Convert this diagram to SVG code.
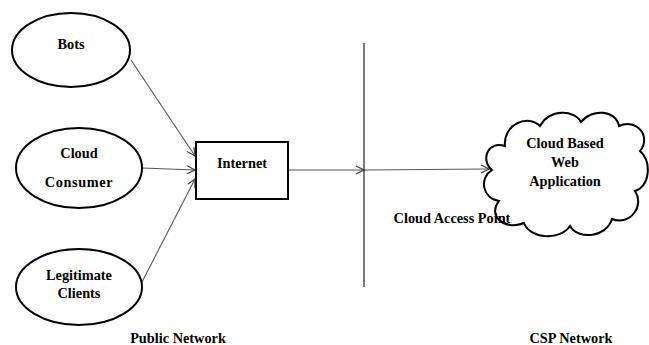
<svg xmlns="http://www.w3.org/2000/svg" width="649" height="345" viewBox="0 0 649 345">
  <style>
    .node { fill: #fff; stroke: #000; stroke-width: 2; }
    .lbl { font-family: "Liberation Serif", "Times New Roman", serif; font-weight: bold; font-size: 14.3px; fill: #000; text-anchor: middle; }
    .conn { stroke: #555; stroke-width: 1.1; fill: none; }
    .divider { stroke: #222; stroke-width: 1.2; }
  </style>
  <defs>
    <marker id="open-arrow" viewBox="0 0 10 10" refX="9" refY="5" markerWidth="10" markerHeight="10" markerUnits="userSpaceOnUse" orient="auto">
      <path d="M1,1 L9,5 L1,9" fill="none" stroke="#444" stroke-width="1.2"/>
    </marker>
  </defs>
  <rect width="649" height="345" fill="#fff"/>

  <!-- connectors -->
  <g id="connectors">
    <line class="conn" x1="131" y1="60" x2="195" y2="156" marker-end="url(#open-arrow)"/>
    <line class="conn" x1="142" y1="168" x2="195" y2="170" marker-end="url(#open-arrow)"/>
    <line class="conn" x1="142" y1="282" x2="195" y2="179" marker-end="url(#open-arrow)"/>
    <line class="conn" x1="288" y1="170" x2="364" y2="170" marker-end="url(#open-arrow)"/>
    <line class="conn" x1="364" y1="170" x2="489" y2="169" marker-end="url(#open-arrow)"/>
    <line class="divider" x1="364" y1="43" x2="364" y2="287"/>
  </g>

  <g id="bots">
    <ellipse class="node" cx="71" cy="50" rx="59" ry="37"/>
    <text class="lbl" x="71" y="49">Bots</text>
  </g>

  <g id="cloud-consumer">
    <ellipse class="node" cx="79" cy="168" rx="63" ry="40"/>
    <text class="lbl" x="79" y="158">Cloud</text>
    <text class="lbl" x="79" y="187" letter-spacing="0.6">Consumer</text>
  </g>

  <g id="legitimate-clients">
    <ellipse class="node" cx="79" cy="287" rx="63" ry="38"/>
    <text class="lbl" x="79" y="280">Legitimate</text>
    <text class="lbl" x="79" y="298">Clients</text>
  </g>

  <g id="internet">
    <rect class="node" x="196" y="142" width="92" height="57"/>
    <text class="lbl" x="242" y="168">Internet</text>
  </g>

  <g id="cloud-app">
    <path class="node" stroke-width="2.3" d="M492,170 C480,160 488,140 505,146 C503,124 528,114 540,126 C550,108 575,110 581,122 C592,108 616,110 619,126 C636,118 652,136 640,151 C652,162 650,186 635,191 C645,206 630,226 612,219 C606,238 578,240 570,226 C560,241 530,239 524,223 C505,231 487,216 499,201 C482,198 479,178 492,170 Z"/>
    <text class="lbl" x="565" y="148">Cloud Based</text>
    <text class="lbl" x="565" y="167">Web</text>
    <text class="lbl" x="565" y="186">Application</text>
  </g>

  <g id="region-labels">
    <text class="lbl" x="452" y="223">Cloud Access Point</text>
    <text class="lbl" x="178" y="343">Public Network</text>
    <text class="lbl" x="571" y="343">CSP Network</text>
  </g>
</svg>
